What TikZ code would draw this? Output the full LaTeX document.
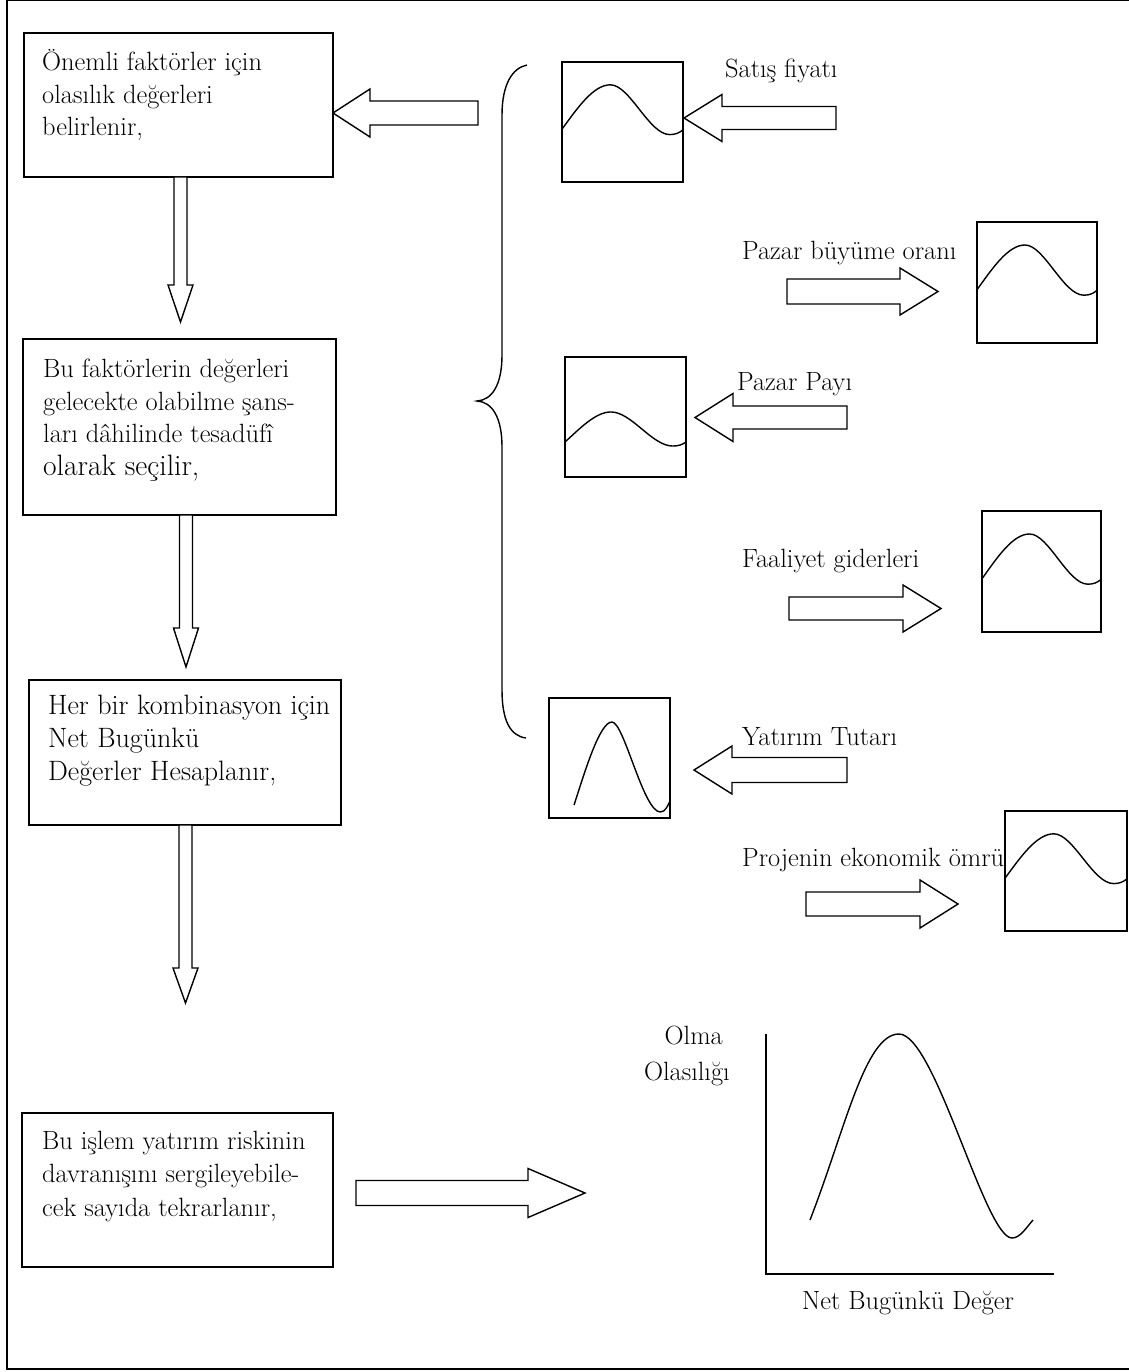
\documentclass[tikz,border=0pt]{standalone}
\usetikzlibrary{calc}
\tikzset{
 boxn/.style={draw, line width=1.7pt, rectangle, inner sep=0pt, outer sep=0pt, anchor=north west, fill=white},
 chartbox/.style={draw, line width=1.6pt, rectangle, inner sep=0pt, outer sep=0pt, anchor=north west, fill=white},
 blk/.style={draw, line width=1.4pt, fill=white, line join=miter},
 curve/.style={line width=1.4pt},
 frame/.style={line width=2pt},
 txt/.style={font=\fontsize{26.4}{32.5}\selectfont, inner sep=0pt, align=left, anchor=base west},
 lbl/.style={font=\fontsize{26.4}{32.5}\selectfont, inner sep=0pt, anchor=base west},
 lble/.style={font=\fontsize{26.4}{32.5}\selectfont, inner sep=0pt, anchor=base east},
}
\newcommand\blkarrow[6]{\draw[blk,shift={#1},rotate=#2] (0,-#5) -- (#3-#4,-#5) -- (#3-#4,-#6) -- (#3,0) -- (#3-#4,#6) -- (#3-#4,#5) -- (0,#5) -- cycle;}
\newcommand\curveA{\draw[curve] (0,0.56) .. controls (0.13,0.38) and (0.26,0.19) .. (0.4,0.19) .. controls (0.56,0.19) and (0.72,0.605) .. (0.89,0.605) .. controls (0.94,0.605) and (0.97,0.59) .. (1,0.565);}
\newcommand\curveB{\draw[curve] (0,0.708) .. controls (0.12,0.6) and (0.25,0.458) .. (0.38,0.458) .. controls (0.55,0.458) and (0.72,0.742) .. (0.89,0.742) .. controls (0.94,0.742) and (0.97,0.73) .. (1,0.708);}
\newcommand\curveC{\draw[curve] (0.207,0.892) .. controls (0.3,0.6) and (0.42,0.2) .. (0.52,0.2) .. controls (0.62,0.2) and (0.78,0.95) .. (0.92,0.95) .. controls (0.96,0.95) and (0.98,0.9) .. (1,0.86);}
\begin{document}
\begin{tikzpicture}[x=1pt,y=-1pt]
\useasboundingbox (0,0) rectangle (1128,1372);
\fill[white] (0,0) rectangle (1128,1372);
% frame
\draw[frame] (7,0) -- (7,1369) -- (1135,1369);
\draw[frame] (7,0) -- (1135,0);

% left flow boxes
\node[boxn, minimum width=309pt, minimum height=144pt] (b1) at (24,33) {};
\node[boxn, minimum width=313pt, minimum height=176pt] (b2) at (23,339) {};
\node[boxn, minimum width=312pt, minimum height=145pt] (b3) at (29,680) {};
\node[boxn, minimum width=311pt, minimum height=154pt] (b4) at (22,1113) {};

% down arrows
\coordinate (d1) at (180.5,177);
\coordinate (d2) at (186,515);
\coordinate (d3) at (185.5,825);
\blkarrow{(d1)}{-90}{145}{37}{6.5}{12.5}
\blkarrow{(d2)}{-90}{152}{39}{6.5}{12.5}
\blkarrow{(d3)}{-90}{178}{35}{6.5}{12.5}

% arrow from brace to box 1
\coordinate (a0) at (478,113);
\blkarrow{(a0)}{180}{145}{37}{12}{24}

% arrow from box 4 to result
\coordinate (a4) at (356,1193);
\blkarrow{(a4)}{0}{229}{57}{12.5}{24.5}

% box texts (anchor = baseline of the last line)
\node[txt] (t1) at (42,136) {Önemli faktörler için\\olasılık değerleri\\belirlenir,};
\node[txt] (t2) at (43,475) {Bu faktörlerin değerleri\\gelecekte olabilme şans-\\ları dâhilinde tesadüfî\\{\fontsize{29.5}{36}\selectfont olarak seçilir,}};
\node[txt, font=\fontsize{28}{33}\selectfont] (t3) at (48,780) {Her bir kombinasyon için\\Net Bugünkü\\Değerler Hesaplanır,};
\node[txt, font=\fontsize{26.4}{33.5}\selectfont] (t4) at (42,1216) {Bu işlem yatırım riskinin\\davranışını sergileyebile-\\cek sayıda tekrarlanır,};

% brace
\draw[curve] (527,65) .. controls (512,68) and (502,85) .. (502,115) -- (502,355) .. controls (502,385) and (492,400) .. (477,401) .. controls (492,402) and (502,417) .. (502,447) -- (502,690) .. controls (502,720) and (510,736) .. (526,738);

% labels
\node[lbl] (l1) at (725,78) {Satış fiyatı};
\node[lbl] (l2) at (742,259) {Pazar büyüme oranı};
\node[lbl] (l3) at (737,390) {Pazar Payı};
\node[lbl] (l4) at (742,567) {Faaliyet giderleri};
\node[lbl] (l5) at (742,745) {Yatırım Tutarı};
\node[lbl] (l6) at (742,866) {Projenin ekonomik ömrü};

% factor charts
\node[chartbox, minimum width=121pt, minimum height=120pt] (c1) at (562,62) {};
\node[chartbox, minimum width=120pt, minimum height=121pt] (c2) at (977,222) {};
\node[chartbox, minimum width=121pt, minimum height=120pt] (c3) at (565,357) {};
\node[chartbox, minimum width=119pt, minimum height=121pt] (c4) at (982,511) {};
\node[chartbox, minimum width=121pt, minimum height=120pt] (c5) at (549,698) {};
\node[chartbox, minimum width=122pt, minimum height=120pt] (c6) at (1005,811) {};
\begin{scope}[shift={(c1.north west)}, x=121pt, y=-120pt]\curveA\end{scope}
\begin{scope}[shift={(c2.north west)}, x=120pt, y=-121pt]\curveA\end{scope}
\begin{scope}[shift={(c3.north west)}, x=121pt, y=-120pt]\curveB\end{scope}
\begin{scope}[shift={(c4.north west)}, x=119pt, y=-121pt]\curveA\end{scope}
\begin{scope}[shift={(c5.north west)}, x=121pt, y=-120pt]\curveC\end{scope}
\begin{scope}[shift={(c6.north west)}, x=122pt, y=-120pt]\curveA\end{scope}

% factor arrows
\coordinate (s1) at (836,118);
\coordinate (s2) at (787,291.5);
\coordinate (s3) at (847,417.5);
\coordinate (s4) at (789,608.5);
\coordinate (s5) at (847,770);
\coordinate (s6) at (806,904);
\blkarrow{(s1)}{180}{152}{38}{11.5}{23.5}
\blkarrow{(s2)}{0}{151}{38}{12.5}{23.5}
\blkarrow{(s3)}{180}{152}{38}{11.5}{24}
\blkarrow{(s4)}{0}{152}{38}{11.5}{23.5}
\blkarrow{(s5)}{180}{153}{38}{12.5}{24}
\blkarrow{(s6)}{0}{152}{38}{12}{24}

% result chart
\coordinate (ytop) at (766,1034);
\coordinate (orig) at (766,1274);
\coordinate (xend) at (1054,1274);
\draw[curve] (ytop) -- (orig) -- (xend);
\draw[curve] (810,1220) .. controls (845,1130) and (865,1034) .. (899,1034) .. controls (935,1034) and (985,1238) .. (1012,1238) .. controls (1020,1238) and (1026,1228) .. (1033,1220);
\node[lble] (o1) at (723,1044) {Olma};
\node[lble] (o2) at (730,1080) {Olasılığı};
\node[lbl, anchor=base] (nb) at (908,1309) {Net Bugünkü Değer};
\end{tikzpicture}
\end{document}
